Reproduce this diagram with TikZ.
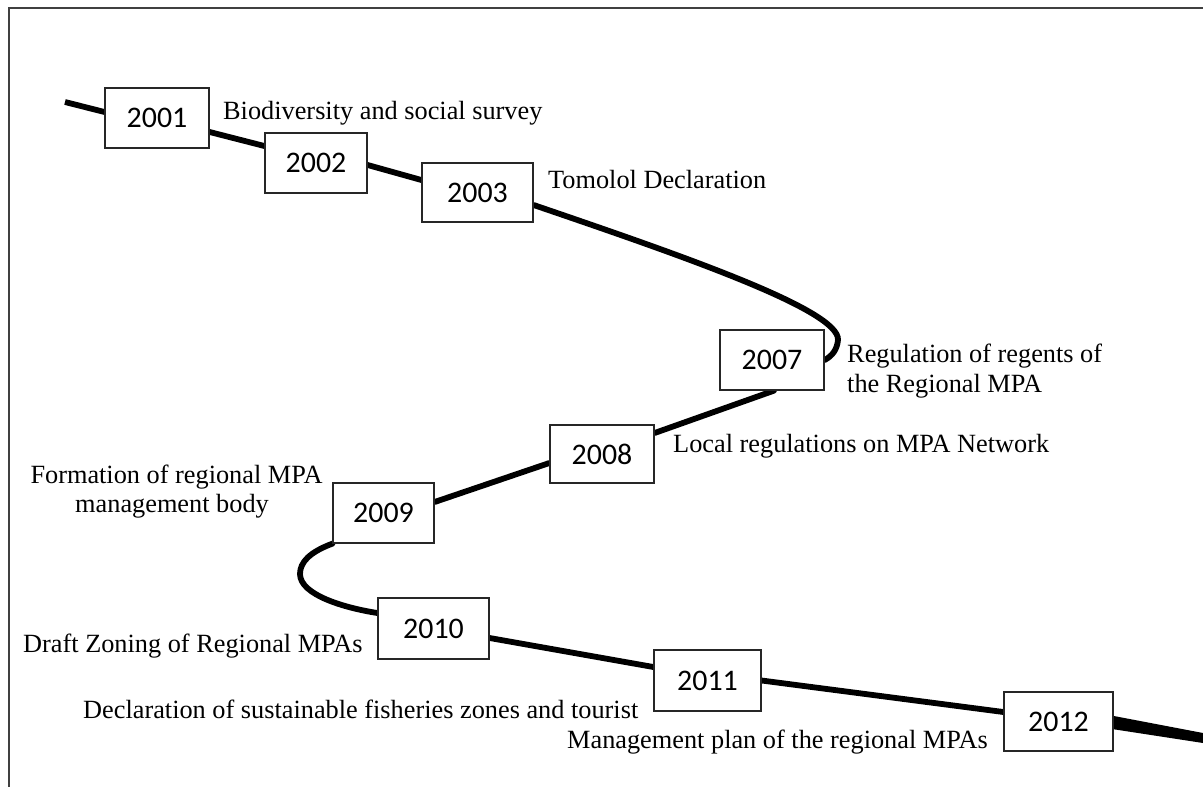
\documentclass[tikz,border=0pt]{standalone}
\usepackage{fontspec}
\setmainfont{Liberation Serif}
\newfontfamily\yearfont{Carlito}
\usetikzlibrary{calc,backgrounds}
\begin{document}
\begin{tikzpicture}[x=1bp,y=-1bp,
  yearbox/.style={draw=black!85, line width=1.3bp, fill=white, inner sep=0pt,
    font=\yearfont\fontsize{30}{34}\selectfont},
  timeline/.style={line width=5.8bp, black, line cap=round},
  lbl/.style={anchor=base west, inner sep=0pt, font=\fontsize{26.4}{30}\selectfont},
  clbl/.style={anchor=base, inner sep=0pt, font=\fontsize{26.4}{30}\selectfont},
  frame/.style={black!75, line width=1.5bp}
]
\useasboundingbox (0,0) rectangle (1203,787);
\draw[frame] (9,787) -- (9,8) -- (1203,8);

% year boxes
\node[yearbox, minimum width=104bp, minimum height=60bp] (y2001) at (157,118) {2001};
\node[yearbox, minimum width=102bp, minimum height=60bp] (y2002) at (316,163) {2002};
\node[yearbox, minimum width=111bp, minimum height=59bp] (y2003) at (477.5,192.5) {2003};
\node[yearbox, minimum width=104bp, minimum height=60bp] (y2007) at (772,360) {2007};
\node[yearbox, minimum width=104bp, minimum height=58bp] (y2008) at (602,454) {2008};
\node[yearbox, minimum width=101bp, minimum height=60bp] (y2009) at (383.5,513) {2009};
\node[yearbox, minimum width=111bp, minimum height=61bp] (y2010) at (433.5,628.5) {2010};
\node[yearbox, minimum width=107bp, minimum height=61bp] (y2011) at (707.5,680.5) {2011};
\node[yearbox, minimum width=109bp, minimum height=59bp] (y2012) at (1058.5,721.5) {2012};

\coordinate (start) at (65,102);
\coordinate (end) at (1203,738);

% timeline
\begin{scope}[on background layer]
\draw[timeline, line cap=butt] (start) -- ([xshift=8bp,yshift=4bp]y2001.west);
\draw[timeline] ([yshift=-14bp]y2001.east) -- ([yshift=17bp]y2002.west);
\draw[timeline] ([yshift=-2bp]y2002.east) -- ([yshift=12.5bp]y2003.west);
\draw[timeline] ([yshift=-12.5bp]y2003.east) .. controls (680,255) and (840,310) .. (838,340)
   .. controls (837,350) and (832,356) .. (y2007.east);
\draw[timeline] ([xshift=2bp]y2007.south) -- ([yshift=21bp]y2008.east);
\draw[timeline] ([yshift=-9bp]y2008.west) -- ([yshift=11bp]y2009.east);
\draw[timeline] (y2009.south west) .. controls (310,552) and (300,562) .. (300,574)
   .. controls (300,595) and (345,608) .. ([yshift=15.5bp]y2010.west);
\draw[timeline] ([yshift=-9.5bp]y2010.east) -- ([yshift=13.5bp]y2011.west);
\draw[timeline] (y2011.east) -- ([yshift=9.5bp]y2012.west);
\fill[black] ([xshift=-5bp,yshift=6.5bp]y2012.east) -- ($(end)+(0,-5)$) -- ($(end)+(0,5)$)
   -- ([xshift=-5bp,yshift=-7bp]y2012.east) -- cycle;
\end{scope}

% labels
\node[lbl] (l2001) at (223,120) {Biodiversity and social survey};
\node[lbl] (l2003) at (548,188) {Tomolol Declaration};
\node[lbl] (l2007a) at (847,362) {Regulation of regents of};
\node[lbl] (l2007b) at (847,392) {the Regional MPA};
\node[lbl] (l2008) at (673,452) {Local regulations on MPA Network};
\node[clbl] (l2009a) at (176.5,483) {Formation of regional MPA};
\node[clbl] (l2009b) at (172,512) {management body};
\node[lbl] (l2010) at (23,652) {Draft Zoning of Regional MPAs};
\node[lbl] (l2011) at (83,718) {Declaration of sustainable fisheries zones and tourist};
\node[lbl] (l2012) at (567,748) {Management plan of the regional MPAs};
\end{tikzpicture}
\end{document}
